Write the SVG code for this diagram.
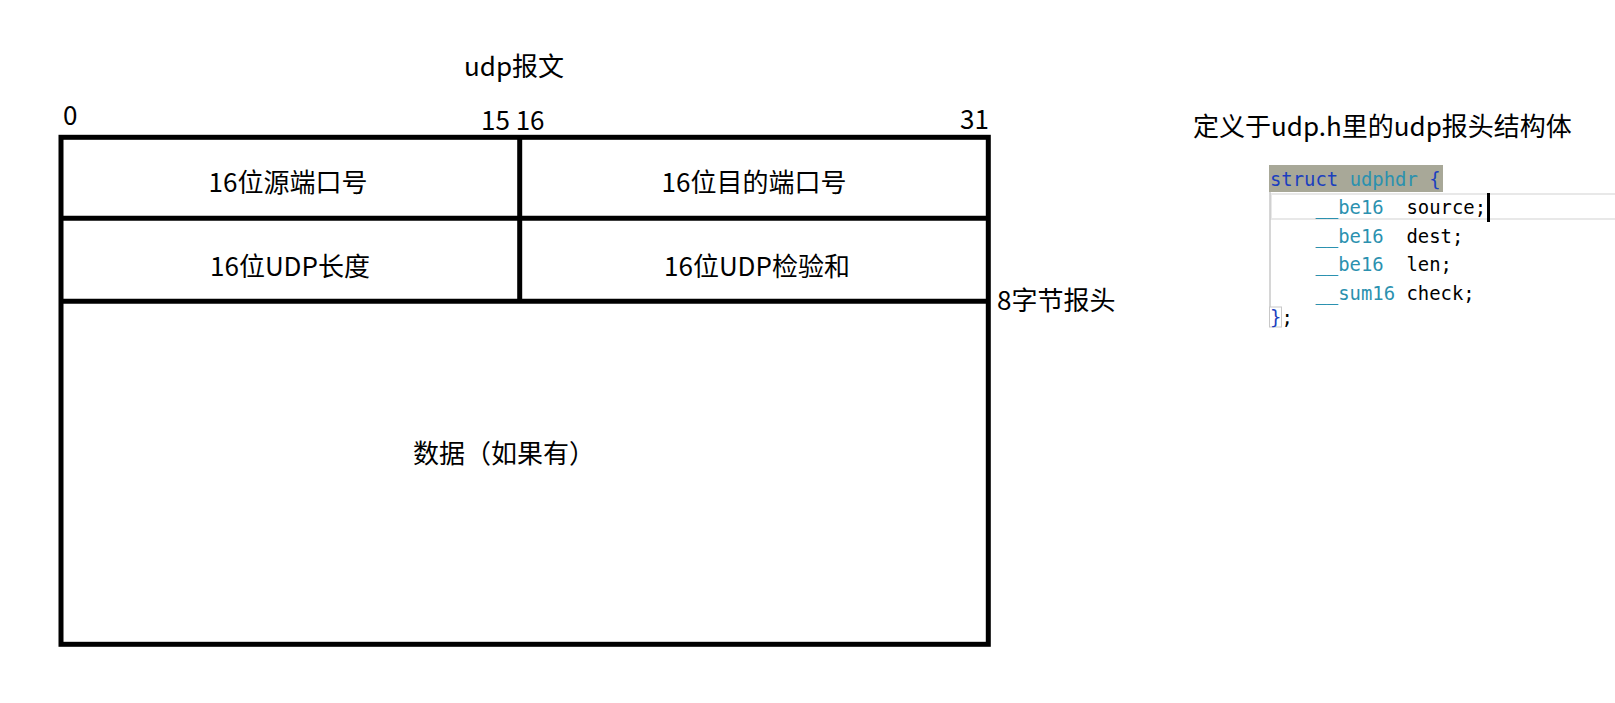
<svg xmlns="http://www.w3.org/2000/svg" width="1615" height="703" viewBox="0 0 1615 703">
<style>
.t{font-family:"Noto Sans CJK SC","Liberation Sans",sans-serif;font-size:26px;fill:#000}
.c{text-anchor:middle}
.box{fill:none;stroke:#000;stroke-width:5}
.code{font-family:"DejaVu Sans Mono","Liberation Mono",monospace;font-size:18.9px;fill:#000}
.kw{fill:#1b3fbf}
.ty{fill:#2b91af}
</style>
<rect width="1615" height="703" fill="#fff"/>
<g id="title"><text class="t c" x="514" y="76">udp报文</text></g>
<g id="bit-labels">
<text class="t" x="63" y="125">0</text>
<text class="t" x="481" y="130">15 16</text>
<text class="t" x="960" y="129">31</text>
</g>
<g id="frame"><rect class="box" x="61" y="137.3" width="927.3" height="507"/></g>
<g id="connectors">
<line x1="519.7" y1="137" x2="519.7" y2="301.3" stroke="#000" stroke-width="5"/>
<line x1="61" y1="218.3" x2="988.3" y2="218.3" stroke="#000" stroke-width="5"/>
<line x1="61" y1="301.3" x2="988.3" y2="301.3" stroke="#000" stroke-width="5"/>
</g>
<g id="src-port"><text class="t c" x="288" y="192">16位源端口号</text></g>
<g id="dst-port"><text class="t c" x="754" y="192">16位目的端口号</text></g>
<g id="udp-len"><text class="t c" x="290" y="276">16位UDP长度</text></g>
<g id="udp-check"><text class="t c" x="757" y="276">16位UDP检验和</text></g>
<g id="data"><text class="t c" x="504" y="463">数据（如果有）</text></g>
<g id="header-label"><text class="t" x="997" y="310">8字节报头</text></g>
<g id="struct-title"><text class="t" x="1193" y="136">定义于udp.h里的udp报头结构体</text></g>
<g id="code">
<rect x="1269" y="165" width="174" height="27" fill="#a8a898"/>
<rect x="1271" y="194" width="360" height="25" fill="none" stroke="#e8e8e8" stroke-width="2"/>
<line x1="1270" y1="192" x2="1270" y2="307" stroke="#c8c8c8" stroke-width="1.5"/>
<rect x="1269.5" y="307" width="12" height="20" fill="none" stroke="#c8c8c8" stroke-width="1"/>
<rect x="1487" y="193" width="3" height="29" fill="#000"/>
<text class="code" x="1270" y="186" xml:space="preserve"><tspan class="kw">struct</tspan> <tspan class="ty">udphdr</tspan> <tspan class="kw">{</tspan></text>
<text class="code" x="1270" y="214" xml:space="preserve">    <tspan class="ty">__be16</tspan>  source;</text>
<text class="code" x="1270" y="242.5" xml:space="preserve">    <tspan class="ty">__be16</tspan>  dest;</text>
<text class="code" x="1270" y="271" xml:space="preserve">    <tspan class="ty">__be16</tspan>  len;</text>
<text class="code" x="1270" y="299.5" xml:space="preserve">    <tspan class="ty">__sum16</tspan> check;</text>
<text class="code" x="1270" y="324" xml:space="preserve"><tspan class="kw">}</tspan>;</text>
</g>
</svg>
